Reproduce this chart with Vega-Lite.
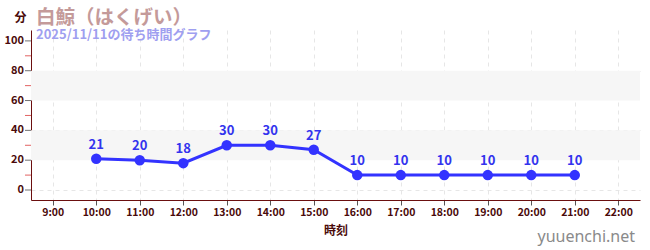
{
  "$schema": "https://vega.github.io/schema/vega-lite/v6.json",
  "autosize": "none",
  "width": 609,
  "height": 170,
  "padding": {"left": 31, "top": 30, "right": 10, "bottom": 50},
  "background": "white",
  "title": {
    "text": "白鯨（はくげい）",
    "subtitle": "2025/11/11の待ち時間グラフ",
    "anchor": "start",
    "frame": "group",
    "font": "Noto Sans CJK JP",
    "fontSize": 19.5,
    "fontWeight": "bold",
    "color": "#c49a9a",
    "subtitleFont": "Noto Sans CJK JP",
    "subtitleFontSize": 13,
    "subtitleFontWeight": "bold",
    "subtitleColor": "#9f9ff0",
    "subtitlePadding": 1,
    "offset": -32,
    "dx": 5,
    "orient": "top"
  },
  "config": {
    "view": {"stroke": null},
    "axis": {
      "labelFont": "Noto Sans CJK JP",
      "titleFont": "Noto Sans CJK JP",
      "labelFontWeight": "bold",
      "labelColor": "#4a0a0a",
      "titleColor": "#4a0a0a",
      "domainColor": "#6b0f0f",
      "gridColor": "#e6e6e6",
      "gridDash": [4, 4]
    }
  },
  "datasets": {
    "waits": [
      {"hour": 10, "wait": 21},
      {"hour": 11, "wait": 20},
      {"hour": 12, "wait": 18},
      {"hour": 13, "wait": 30},
      {"hour": 14, "wait": 30},
      {"hour": 15, "wait": 27},
      {"hour": 16, "wait": 10},
      {"hour": 17, "wait": 10},
      {"hour": 18, "wait": 10},
      {"hour": 19, "wait": 10},
      {"hour": 20, "wait": 10},
      {"hour": 21, "wait": 10}
    ],
    "bands": [
      {"lo": 20, "hi": 40},
      {"lo": 60, "hi": 80}
    ],
    "minor": [
      {"v": 10}, {"v": 30}, {"v": 50}, {"v": 70}, {"v": 90}
    ],
    "major": [
      {"v": 0}, {"v": 20}, {"v": 40}, {"v": 60}, {"v": 80}, {"v": 100}
    ]
  },
  "layer": [
    {
      "data": {"name": "bands"},
      "mark": {"type": "rect", "color": "#f6f6f6"},
      "encoding": {
        "x": {
          "datum": 8.5,
          "type": "quantitative",
          "scale": {"domain": [8.5, 22.5], "nice": false, "zero": false},
          "axis": {
            "values": [9, 10, 11, 12, 13, 14, 15, 16, 17, 18, 19, 20, 21, 22],
            "labelExpr": "datum.value + ':00'",
            "labelOverlap": false,
            "title": "時刻",
            "titleFontSize": 12,
            "titleFontWeight": "bold",
            "titlePadding": 8,
            "labelFontSize": 10.5,
            "tickColor": "#555555",
            "tickSize": 5,
            "labelPadding": 2,
            "grid": true
          }
        },
        "x2": {"datum": 22.5},
        "y": {
          "field": "lo",
          "type": "quantitative",
          "scale": {"domain": [-6.7, 107.3], "nice": false, "zero": false},
          "axis": {
            "values": [0, 20, 40, 60, 80, 100],
            "labels": false,
            "ticks": false,
            "title": "分",
            "titleAngle": 0,
            "titleAlign": "center",
            "titleBaseline": "middle",
            "titleX": -11,
            "titleY": -13,
            "titleFontSize": 12,
            "titleFontWeight": "bold",
            "grid": true
          }
        },
        "y2": {"field": "hi"}
      }
    },
    {
      "data": {"name": "minor"},
      "mark": {"type": "tick", "orient": "horizontal", "color": "#d42020", "size": 6, "thickness": 1, "xOffset": -3},
      "encoding": {
        "x": {"datum": 8.5, "type": "quantitative"},
        "y": {"field": "v", "type": "quantitative"}
      }
    },
    {
      "data": {"name": "major"},
      "mark": {"type": "tick", "orient": "horizontal", "color": "#333333", "size": 6, "thickness": 1, "xOffset": -3},
      "encoding": {
        "x": {"datum": 8.5, "type": "quantitative"},
        "y": {"field": "v", "type": "quantitative"}
      }
    },
    {
      "data": {"name": "major"},
      "mark": {"type": "text", "color": "#4a0a0a", "font": "Noto Sans CJK JP", "fontWeight": "bold", "fontSize": 11, "align": "right", "baseline": "middle", "dx": -7},
      "encoding": {
        "x": {"datum": 8.5, "type": "quantitative"},
        "y": {"field": "v", "type": "quantitative"},
        "text": {"field": "v", "type": "quantitative"}
      }
    },
    {
      "data": {"name": "waits"},
      "mark": {"type": "line", "color": "#3333ff", "strokeWidth": 3},
      "encoding": {
        "x": {"field": "hour", "type": "quantitative"},
        "y": {"field": "wait", "type": "quantitative"}
      }
    },
    {
      "data": {"name": "waits"},
      "mark": {"type": "point", "filled": true, "color": "#3333ff", "size": 110, "opacity": 1},
      "encoding": {
        "x": {"field": "hour", "type": "quantitative"},
        "y": {"field": "wait", "type": "quantitative"}
      }
    },
    {
      "data": {"name": "waits"},
      "mark": {"type": "text", "color": "#3333ee", "font": "Noto Sans CJK JP", "fontWeight": "bold", "fontSize": 13, "dy": -14},
      "encoding": {
        "x": {"field": "hour", "type": "quantitative"},
        "y": {"field": "wait", "type": "quantitative"},
        "text": {"field": "wait", "type": "quantitative"}
      }
    },
    {
      "data": {"values": [{"site": "yuuenchi.net"}]},
      "mark": {"type": "text", "color": "#8a8a8a", "font": "Noto Sans", "fontSize": 16, "align": "right", "baseline": "bottom", "dy": 45, "dx": -5},
      "encoding": {
        "x": {"datum": 22.5, "type": "quantitative"},
        "y": {"datum": -6.7, "type": "quantitative"},
        "text": {"field": "site"}
      }
    }
  ]
}
